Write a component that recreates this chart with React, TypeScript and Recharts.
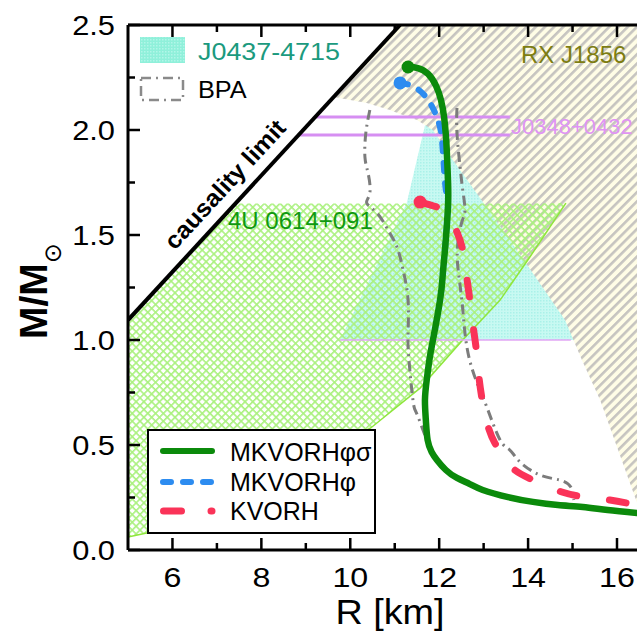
import React from "react";
import { ComposedChart, Line, Area, XAxis, YAxis } from "recharts";

const FONT = "'Liberation Sans', Arial, Helvetica, sans-serif";

// mass-radius curves, R [km] / M [Msun]
const mkvorhPhiSigma = [
  { R: 11.3, M: 2.3 }, { R: 11.52, M: 2.295 }, { R: 11.75, M: 2.267 }, { R: 11.93, M: 2.21 },
  { R: 12.04, M: 2.143 }, { R: 12.11, M: 2.062 }, { R: 12.15, M: 1.976 }, { R: 12.17, M: 1.905 },
  { R: 12.2, M: 1.748 }, { R: 12.2, M: 1.643 }, { R: 12.17, M: 1.538 }, { R: 12.13, M: 1.429 },
  { R: 12.08, M: 1.31 }, { R: 12.02, M: 1.19 }, { R: 11.86, M: 1.0 }, { R: 11.79, M: 0.919 },
  { R: 11.72, M: 0.81 }, { R: 11.68, M: 0.714 }, { R: 11.7, M: 0.619 }, { R: 11.74, M: 0.524 },
  { R: 11.83, M: 0.467 }, { R: 11.95, M: 0.429 }, { R: 12.15, M: 0.381 }, { R: 12.4, M: 0.343 },
  { R: 12.69, M: 0.314 }, { R: 12.98, M: 0.286 }, { R: 13.55, M: 0.252 }, { R: 14.11, M: 0.229 },
  { R: 14.67, M: 0.214 }, { R: 15.23, M: 0.205 }, { R: 15.79, M: 0.19 }, { R: 16.45, M: 0.176 },
];

const mkvorhPhi = [
  { R: 11.12, M: 2.224 }, { R: 11.34, M: 2.214 }, { R: 11.57, M: 2.186 }, { R: 11.75, M: 2.143 },
  { R: 11.88, M: 2.095 }, { R: 11.97, M: 2.048 }, { R: 12.04, M: 1.99 }, { R: 12.08, M: 1.905 },
  { R: 12.11, M: 1.81 }, { R: 12.15, M: 1.714 }, { R: 12.2, M: 1.643 }, { R: 12.17, M: 1.538 },
  { R: 12.13, M: 1.429 },
];

const kvorh = [
  { R: 11.57, M: 1.657 }, { R: 11.95, M: 1.633 }, { R: 12.2, M: 1.595 }, { R: 12.38, M: 1.524 },
  { R: 12.53, M: 1.429 }, { R: 12.62, M: 1.3 }, { R: 12.69, M: 1.19 }, { R: 12.76, M: 1.071 },
  { R: 12.83, M: 0.962 }, { R: 12.89, M: 0.833 }, { R: 12.96, M: 0.724 }, { R: 13.07, M: 0.61 },
  { R: 13.25, M: 0.51 }, { R: 13.48, M: 0.438 }, { R: 13.7, M: 0.381 }, { R: 14.2, M: 0.324 },
  { R: 14.76, M: 0.276 }, { R: 15.28, M: 0.252 }, { R: 15.84, M: 0.238 }, { R: 16.45, M: 0.214 },
];

const bpaLeft = [
  { R: 10.44, M: 2.095 }, { R: 10.35, M: 1.986 }, { R: 10.33, M: 1.871 }, { R: 10.4, M: 1.795 },
  { R: 10.44, M: 1.7 }, { R: 10.37, M: 1.652 }, { R: 10.6, M: 1.605 }, { R: 10.85, M: 1.524 },
  { R: 11.05, M: 1.443 }, { R: 11.19, M: 1.333 }, { R: 11.3, M: 1.19 }, { R: 11.3, M: 1.033 },
  { R: 11.32, M: 0.905 }, { R: 11.41, M: 0.714 }, { R: 11.48, M: 0.657 }, { R: 11.61, M: 0.586 },
  { R: 11.72, M: 0.524 },
];

const bpaRight = [
  { R: 12.4, M: 2.105 }, { R: 12.4, M: 1.986 }, { R: 12.47, M: 1.824 }, { R: 12.53, M: 1.714 },
  { R: 12.58, M: 1.619 }, { R: 12.51, M: 1.562 }, { R: 12.42, M: 1.462 }, { R: 12.42, M: 1.348 },
  { R: 12.51, M: 1.19 }, { R: 12.58, M: 1.033 }, { R: 12.69, M: 0.9 }, { R: 12.87, M: 0.786 },
  { R: 13.08, M: 0.676 }, { R: 13.37, M: 0.524 }, { R: 13.59, M: 0.476 }, { R: 13.82, M: 0.419 },
  { R: 14.27, M: 0.357 }, { R: 14.72, M: 0.333 }, { R: 14.96, M: 0.3 }, { R: 15.03, M: 0.238 },
];

// constraints
const causality = [{ R: 5, M: 1.095 }, { R: 11.12, M: 2.5 }];
const j0348Upper = [{ R: 9.21, M: 2.062 }, { R: 13.59, M: 2.062 }];
const j0348Lower = [{ R: 8.84, M: 1.976 }, { R: 13.59, M: 1.976 }];
const j0437Base = [{ R: 9.77, M: 1.0 }, { R: 14.96, M: 1.0 }];

const j0437Band = [
  { R: 9.77, M: [1, 1] }, { R: 11.27, M: [1, 1.652] }, { R: 12.1, M: [1, 2.4] }, { R: 15.3, M: [1, 1] },
];

const rxj1856Band = [
  { R: 9.625, M: [2.157, 2.157] }, { R: 10.0, M: [2.143, 2.243] }, { R: 10.37, M: [2.129, 2.328] },
  { R: 10.89, M: [2.095, 2.447] }, { R: 11.12, M: [2.076, 2.5] }, { R: 11.5, M: [2.048, 2.5] },
  { R: 11.86, M: [2.0, 2.5] }, { R: 12.26, M: [1.871, 2.5] }, { R: 12.87, M: [1.69, 2.5] },
  { R: 13.48, M: [1.51, 2.5] }, { R: 14.15, M: [1.305, 2.5] }, { R: 14.83, M: [1.095, 2.5] },
  { R: 15.22, M: [0.9, 2.5] }, { R: 15.62, M: [0.714, 2.5] }, { R: 16.0, M: [0.49, 2.5] },
  { R: 16.45, M: [0.225, 2.5] },
];

const u0614Band = [
  { R: 5, M: [0.062, 1.095] }, { R: 5.42, M: [0.081, 1.191] }, { R: 7.417, M: [0.25, 1.65] },
  { R: 7.94, M: [0.295, 1.65] }, { R: 10.46, M: [0.581, 1.65] }, { R: 11.57, M: [0.771, 1.65] },
  { R: 12.53, M: [1.0, 1.65] }, { R: 13.37, M: [1.19, 1.65] }, { R: 14.04, M: [1.395, 1.65] },
  { R: 14.85, M: [1.652, 1.652] },
];

const xTicks = [6, 7, 8, 9, 10, 11, 12, 13, 14, 15, 16];
const yTicks = [0, 0.25, 0.5, 0.75, 1, 1.25, 1.5, 1.75, 2, 2.25, 2.5];

function BottomTick(props: any) {
  const { x, y, payload } = props;
  const v = payload.value as number;
  const major = v % 2 === 0;
  return (
    <g>
      <line x1={x} x2={x} y1={y} y2={y - (major ? 12 : 7)} stroke="#000" strokeWidth={2.5} />
      {major && (
        <text transform={`translate(${x},${y + 37}) scale(1.15,1)`} textAnchor="middle" fontSize={28} fontFamily={FONT} fill="#000">
          {v}
        </text>
      )}
    </g>
  );
}

function TopTick(props: any) {
  const { x, y, payload } = props;
  const major = payload.value % 2 === 0;
  return <line x1={x} x2={x} y1={y} y2={y + (major ? 12 : 7)} stroke="#000" strokeWidth={2.5} />;
}

function LeftTick(props: any) {
  const { x, y, payload } = props;
  const v = payload.value as number;
  const major = Math.abs(v * 2 - Math.round(v * 2)) < 1e-6;
  return (
    <g>
      <line x1={x} x2={x + (major ? 12 : 7)} y1={y} y2={y} stroke="#000" strokeWidth={2.5} />
      {major && (
        <text transform={`translate(${x - 13},${y + 10}) scale(1.1,1)`} textAnchor="end" fontSize={28} fontFamily={FONT} fill="#000">
          {v.toFixed(1)}
        </text>
      )}
    </g>
  );
}

const firstDot = (color: string, r: number) => (p: any) =>
  p.index === 0 ? <circle key={`d${p.index}`} cx={p.cx} cy={p.cy} r={r} fill={color} /> : <g key={`d${p.index}`} />;

export default function App() {
  return (
    <div style={{ position: "absolute", left: 0, top: 0, width: 637, height: 634, background: "#fff", overflow: "hidden" }}>
      <ComposedChart width={637} height={634} margin={{ top: 24, right: 0, bottom: 83, left: 0 }}>
        <defs>
          <pattern id="hatchRX" patternUnits="userSpaceOnUse" width="6.5" height="6.5" patternTransform="rotate(45)">
            <rect width="6.5" height="6.5" fill="#fffde6" />
            <rect width="2.6" height="6.5" fill="#c6c4c0" />
          </pattern>
          <pattern id="lattice4U" patternUnits="userSpaceOnUse" width="5.5" height="5.5" patternTransform="rotate(45)">
            <rect width="5.5" height="1.6" fill="#aaf17e" />
            <rect width="1.6" height="5.5" fill="#aaf17e" />
          </pattern>
          <pattern id="cyanDots" patternUnits="userSpaceOnUse" width="3" height="3">
            <rect width="3" height="3" fill="#c8f9f2" />
            <rect width="1.5" height="1.5" fill="#aaf1e9" />
          </pattern>
        </defs>
        <XAxis
          type="number"
          dataKey="R"
          domain={[5, 16.45]}
          allowDataOverflow
          ticks={xTicks}
          interval={0}
          height={1}
          tickSize={0}
          tickMargin={0}
          tickLine={false}
          axisLine={{ stroke: "#000", strokeWidth: 3 }}
          tick={<BottomTick />}
        />
        <XAxis
          xAxisId="top"
          orientation="top"
          type="number"
          dataKey="R"
          domain={[5, 16.45]}
          allowDataOverflow
          ticks={xTicks}
          interval={0}
          height={1}
          tickSize={0}
          tickMargin={0}
          tickLine={false}
          axisLine={{ stroke: "#000", strokeWidth: 3 }}
          tick={<TopTick />}
        />
        <YAxis
          type="number"
          domain={[0, 2.5]}
          allowDataOverflow
          ticks={yTicks}
          interval={0}
          width={128}
          tickSize={0}
          tickMargin={0}
          tickLine={false}
          axisLine={{ stroke: "#000", strokeWidth: 3 }}
          tick={<LeftTick />}
        />

        <Area data={j0437Band} dataKey="M" type="linear" stroke="none" fill="url(#cyanDots)" fillOpacity={1} dot={false} activeDot={false} isAnimationActive={false} />
        <Area data={rxj1856Band} dataKey="M" type="linear" stroke="none" fill="url(#hatchRX)" fillOpacity={1} dot={false} activeDot={false} isAnimationActive={false} />
        <Area data={u0614Band} dataKey="M" type="linear" stroke="none" fill="url(#lattice4U)" fillOpacity={1} dot={false} activeDot={false} isAnimationActive={false} />
        <Line data={u0614Band} dataKey={(d: any) => d.M[0]} type="linear" stroke="#8fe63c" strokeWidth={1.5} dot={false} activeDot={false} isAnimationActive={false} />

        <Line data={j0437Base} dataKey="M" type="linear" stroke="#e2a6f4" strokeWidth={1.5} dot={false} activeDot={false} isAnimationActive={false} />
        <Line data={j0348Upper} dataKey="M" type="linear" stroke="#d68ef2" strokeWidth={3} dot={false} activeDot={false} isAnimationActive={false} />
        <Line data={j0348Lower} dataKey="M" type="linear" stroke="#d68ef2" strokeWidth={3} dot={false} activeDot={false} isAnimationActive={false} />
        <Line data={causality} dataKey="M" type="linear" stroke="#000" strokeWidth={4} dot={false} activeDot={false} isAnimationActive={false} />

        <Line data={bpaLeft} dataKey="M" type="natural" stroke="#7c7c7c" strokeWidth={3} strokeDasharray="10 5 2 5" dot={false} activeDot={false} isAnimationActive={false} />
        <Line data={bpaRight} dataKey="M" type="natural" stroke="#7c7c7c" strokeWidth={3} strokeDasharray="10 5 2 5" dot={false} activeDot={false} isAnimationActive={false} />

        <Line data={kvorh} dataKey="M" type="natural" stroke="#fa3358" strokeWidth={7} strokeDasharray="17 33" strokeLinecap="round" dot={firstDot("#fa3358", 6.5)} activeDot={false} isAnimationActive={false} />
        <Line data={mkvorhPhi} dataKey="M" type="natural" stroke="#2d8cf0" strokeWidth={6} strokeDasharray="8 12" strokeLinecap="round" dot={firstDot("#2d8cf0", 6.5)} activeDot={false} isAnimationActive={false} />
        <Line data={mkvorhPhiSigma} dataKey="M" type="natural" stroke="#0b8a0b" strokeWidth={6.5} strokeLinecap="round" dot={firstDot("#0b8a0b", 6.5)} activeDot={false} isAnimationActive={false} />
      </ComposedChart>

      <svg width={637} height={634} style={{ position: "absolute", left: 0, top: 0, pointerEvents: "none" }}>
        <defs>
          <pattern id="cyanLegend" patternUnits="userSpaceOnUse" width="3" height="3">
            <rect width="3" height="3" fill="#8ff0da" />
            <rect width="1.5" height="1.5" fill="#b2f6e8" />
          </pattern>
        </defs>

        {/* axis titles */}
        <text transform="translate(47,291) rotate(-90)" textAnchor="middle" fontFamily={FONT} fontWeight="bold" fontSize={39} fill="#000">
          M/M
          <tspan fontSize={24} dy={14} fontWeight="normal" fontFamily="'DejaVu Sans', sans-serif">⊙</tspan>
        </text>
        <text transform="translate(390,624) scale(1.08,1)" textAnchor="middle" fontFamily={FONT} fontSize={35} fill="#000">
          R [km]
        </text>

        {/* annotations */}
        <text transform="translate(231,190) rotate(-47.3)" textAnchor="middle" fontFamily={FONT} fontWeight="bold" fontSize={24} textLength={166} lengthAdjust="spacingAndGlyphs" fill="#000">
          causality limit
        </text>
        <text x={228} y={229} fontFamily={FONT} fontSize={24} fill="#0f990f">4U 0614+091</text>
        <text x={521} y={63} fontFamily={FONT} fontSize={24} fill="#7d7d12">RX J1856</text>
        <text x={511} y={134} fontFamily={FONT} fontSize={22} fill="#e094f4">J0348+0432</text>

        {/* top-left legend */}
        <rect x={140} y={37} width={45} height={26} fill="url(#cyanLegend)" />
        <text transform="translate(198,60) scale(1.12,1)" fontFamily={FONT} fontSize={24} fill="#1b9a7e">J0437-4715</text>
        <rect x={141} y={78} width={42} height={22} fill="none" stroke="#8a8a8a" strokeWidth={2.5} strokeDasharray="10 5 2 5" />
        <text transform="translate(198,98) scale(1.1,1)" fontFamily={FONT} fontSize={23} fill="#000">BPA</text>

        {/* bottom-left legend */}
        <rect x={148} y={430} width={227} height={103} fill="#fff" stroke="#000" strokeWidth={2} />
        <line x1={163} x2={212} y1={451} y2={451} stroke="#0b8a0b" strokeWidth={6} strokeLinecap="round" />
        <line x1={163} x2={212} y1={482} y2={482} stroke="#2d8cf0" strokeWidth={6} strokeDasharray="8 12" strokeLinecap="round" />
        <line x1={163.5} x2={181.5} y1={511} y2={511} stroke="#fa3358" strokeWidth={7} strokeLinecap="round" />
        <line x1={211} x2={212} y1={511} y2={511} stroke="#fa3358" strokeWidth={7} strokeLinecap="round" />
        <text x={230} y={461} fontFamily={FONT} fontSize={25} fill="#000">MKVORHφσ</text>
        <text x={230} y={491} fontFamily={FONT} fontSize={25} fill="#000">MKVORHφ</text>
        <text x={230} y={520} fontFamily={FONT} fontSize={25} fill="#000">KVORH</text>
      </svg>
    </div>
  );
}
